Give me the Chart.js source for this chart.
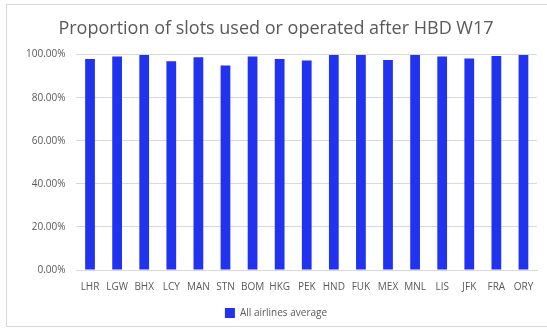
<!DOCTYPE html>
<html>
<head>
<meta charset="utf-8">
<script src="https://cdn.jsdelivr.net/npm/chart.js@4"></script>
<style>
  html, body { margin: 0; padding: 0; background: #fff; }
  body { width: 547px; height: 331px; position: relative; overflow: hidden; }
  .frame { position: absolute; left: 6px; top: 4px; width: 560px; height: 321px; border: 1px solid #d9d9d9; }
  #wrap { position: absolute; left: 0; top: 0; width: 547px; height: 331px; }
</style>
</head>
<body>
<div class="frame"></div>
<div id="wrap"><canvas id="slots"></canvas></div>
<script>
// airports and the share of slots used per airport (percent)
const airports = ['LHR', 'LGW', 'BHX', 'LCY', 'MAN', 'STN', 'BOM', 'HKG', 'PEK', 'HND', 'FUK', 'MEX', 'MNL', 'LIS', 'JFK', 'FRA', 'ORY'];
const allAirlinesAverage = [98.0, 99.1, 99.8, 96.9, 98.8, 94.9, 99.1, 97.9, 97.3, 99.8, 99.8, 97.5, 99.8, 99.1, 98.2, 99.4, 99.8];
const yTicks = [0, 20, 40, 60, 80, 100];

const grey = '#595959';
const fontFamily = "'Open Sans', 'Noto Sans', sans-serif";

new Chart(document.getElementById('slots'), {
  type: 'bar',
  data: {
    labels: airports,
    datasets: [{
      label: 'All airlines average',
      data: allAirlinesAverage,
      backgroundColor: '#2233f0',
      borderColor: '#2233f0',
      borderWidth: 0,
      barPercentage: 0.45,
      categoryPercentage: 0.8
    }]
  },
  options: {
    responsive: true,
    maintainAspectRatio: false,
    animation: false,
    layout: { padding: { left: 15, right: 10, top: 6, bottom: 3 } },
    plugins: {
      title: {
        display: true,
        text: 'Proportion of slots used or operated after HBD W17',
        color: grey,
        font: { family: fontFamily, size: 18, weight: 'normal' },
        padding: { top: 12, bottom: 15 }
      },
      legend: {
        position: 'bottom',
        labels: {
          color: grey,
          boxWidth: 10,
          boxHeight: 10,
          padding: 12,
          font: { family: fontFamily, size: 10 }
        }
      },
      tooltip: { enabled: false }
    },
    scales: {
      x: {
        grid: { display: false },
        border: { color: '#d9d9d9' },
        ticks: {
          color: grey,
          font: { family: fontFamily, size: 10 },
          maxRotation: 0,
          autoSkip: false,
          padding: 3
        }
      },
      y: {
        min: 0,
        max: 100,
        afterBuildTicks: axis => { axis.ticks = yTicks.map(v => ({ value: v })); },
        grid: { color: '#d9d9d9', drawTicks: false },
        border: { display: false },
        ticks: {
          color: grey,
          font: { family: fontFamily, size: 10 },
          padding: 11,
          callback: v => v.toFixed(2) + '%'
        }
      }
    }
  }
});
</script>
</body>
</html>
